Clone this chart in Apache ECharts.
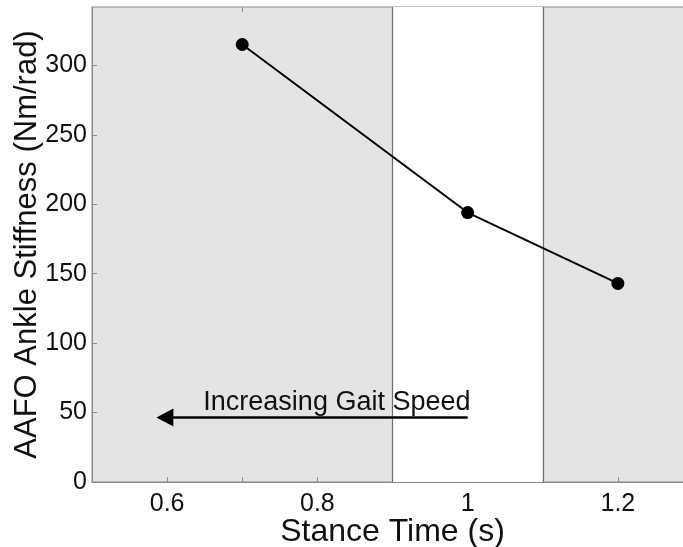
<!DOCTYPE html>
<html>
<head>
<meta charset="utf-8">
<script src="https://cdn.jsdelivr.net/npm/echarts@6/dist/echarts.min.js"></script>
<style>html,body{margin:0;padding:0;background:#fff}#c{width:683px;height:547px}</style>
</head>
<body>
<div id="c"></div>
<script>
var stanceTime = [0.7, 1.0, 1.2];
var stiffness = [315, 194, 143];
var bandEdges = [0.9, 1.1];
var arrowFrom = [1.0, 46.5];
var arrowTo = [0.597, 46.5];
var arrowText = 'Increasing Gait Speed';
var arrowTextPos = [0.826, 57];
var xRange = [0.5, 1.3];
var yRange = [0, 342];

var chart = echarts.init(document.getElementById('c'), null, {renderer: 'canvas'});
var font = 'Liberation Sans, Arial, sans-serif';
var axisGray = '#8a8a8a';
chart.setOption({
  animation: false,
  grid: {left: 92, top: 7, bottom: 65, right: -10, outerBoundsMode: 'none', containLabel: false,
    show: true, backgroundColor: '#e4e4e4', borderColor: axisGray, borderWidth: 1},
  xAxis: [{
    type: 'value', min: xRange[0], max: xRange[1], interval: 0.1,
    name: 'Stance Time (s)', nameLocation: 'middle', nameGap: 34, nameMoveOverlap: false,
    nameTextStyle: {fontSize: 32, color: '#111', fontFamily: font},
    axisLine: {show: true, lineStyle: {color: axisGray}},
    axisTick: {show: true, inside: true, length: 5, lineStyle: {color: axisGray},
      interval: function(i, v){ return Math.abs(Math.round(v*5) - v*5) < 1e-6; }},
    axisLabel: {fontSize: 25, color: '#111', fontFamily: font, margin: 10,
      formatter: function(v){ var r = Math.round(v*10)/10; if (Math.abs(r*5 - Math.round(r*5)) > 1e-6) return ''; if (r === xRange[0] || r === xRange[1]) return ''; return String(r); }},
    splitLine: {show: false}
  }, {
    type: 'value', position: 'top', min: xRange[0], max: xRange[1], interval: 0.2,
    axisLine: {show: false}, axisLabel: {show: false},
    axisTick: {show: true, inside: true, length: 5, lineStyle: {color: axisGray}},
    splitLine: {show: false}
  }],
  yAxis: {
    type: 'value', min: yRange[0], max: yRange[1], interval: 50,
    name: 'AAFO Ankle Stiffness (Nm/rad)', nameLocation: 'middle', nameGap: 49, nameMoveOverlap: false,
    nameTextStyle: {fontSize: 31, color: '#111', fontFamily: font},
    axisLine: {show: true, lineStyle: {color: axisGray}},
    axisTick: {show: true, inside: true, length: 5, lineStyle: {color: axisGray}},
    axisLabel: {fontSize: 25, color: '#111', fontFamily: font, margin: 5, showMaxLabel: false,
      formatter: function(v){ return (v % 50 === 0) ? String(v) : ''; }},
    splitLine: {show: false}
  },
  series: [{
    type: 'line',
    data: stanceTime.map(function(x, i){ return [x, stiffness[i]]; }),
    symbol: 'circle', symbolSize: 13,
    itemStyle: {color: '#000'},
    lineStyle: {color: '#000', width: 2},
    markArea: {silent: true, itemStyle: {color: '#ffffff'},
      data: [[{xAxis: bandEdges[0]}, {xAxis: bandEdges[1]}]]},
    markLine: {silent: true, symbol: 'none', label: {show: false},
      lineStyle: {color: '#6e6e6e', width: 1.2, type: 'solid'},
      data: bandEdges.map(function(e){ return {xAxis: e}; })},
    z: 5
  }, {
    type: 'line', data: [], silent: true,
    markLine: {silent: true, symbol: ['none', 'triangle'], symbolSize: [18, 17],
      label: {show: false},
      lineStyle: {color: '#000', width: 2.5, type: 'solid'},
      data: [[{coord: arrowFrom}, {coord: arrowTo}]]}
  }, {
    type: 'scatter', silent: true, symbolSize: 0,
    itemStyle: {opacity: 1},
    data: [arrowTextPos],
    label: {show: true, position: 'inside', formatter: arrowText, fontSize: 27, color: '#111', fontFamily: font}
  }]
});
</script>
</body>
</html>
